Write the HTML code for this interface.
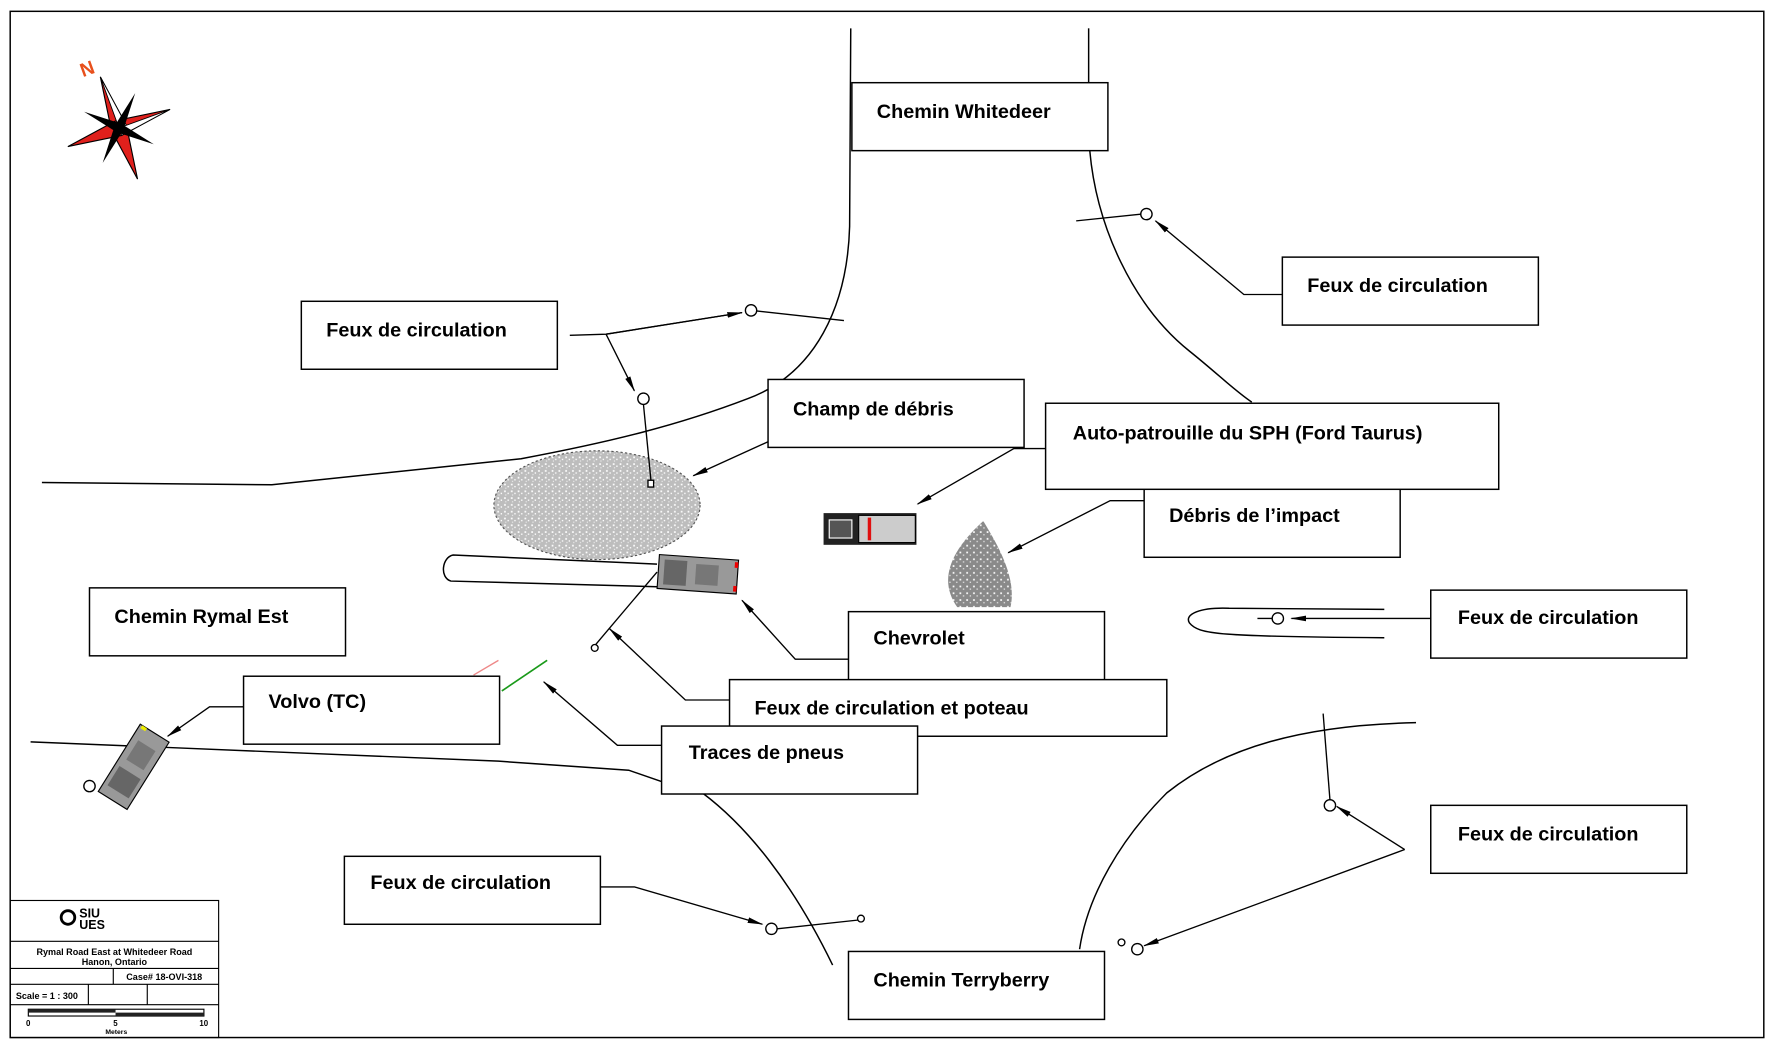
<!DOCTYPE html>
<html><head><meta charset="utf-8"><style>
html,body{margin:0;padding:0;background:#fff;}
svg{display:block;}
text{font-family:"Liberation Sans",sans-serif;font-weight:bold;}
</style></head><body>
<svg width="1774" height="1050" viewBox="0 0 1566 927" preserveAspectRatio="none" xmlns="http://www.w3.org/2000/svg">
<defs>
<marker id="a" markerWidth="14" markerHeight="8" refX="13" refY="4" orient="auto" markerUnits="userSpaceOnUse"><path d="M0,1.5 L14,4 L0,6.5 Z" fill="#000"/></marker>
<pattern id="sp" width="6" height="6" patternUnits="userSpaceOnUse"><rect width="6" height="6" fill="#bdbdbd"/><rect x="1" y="1" width="1.5" height="1.5" fill="#fff"/><rect x="4" y="3" width="1.2" height="1.2" fill="#fff"/><rect x="2" y="4.5" width="1" height="1" fill="#eee"/></pattern>
<pattern id="sp2" width="6" height="6" patternUnits="userSpaceOnUse"><rect width="6" height="6" fill="#8a8a8a"/><rect x="1" y="1" width="1.5" height="1.5" fill="#fff"/><rect x="4" y="3.5" width="1.2" height="1.2" fill="#ddd"/></pattern>
</defs>
<rect x="0" y="0" width="1566" height="927" fill="#fff"/>
<rect x="9" y="10" width="1548" height="906" fill="none" stroke="#000" stroke-width="1.3"/>

<!-- compass -->
<g transform="translate(105,113) rotate(-20)">
<polygon points="0,-48 7,0 0,48 -7,0" fill="#e0201c" stroke="#000" stroke-width="1"/>
<polygon points="-48,0 0,-7 48,0 0,7" fill="#e0201c" stroke="#000" stroke-width="1"/>
<polygon points="0,-48 7,0 0,0" fill="#fff" stroke="#000" stroke-width="0.8"/>
<polygon points="48,0 0,7 0,0" fill="#fff" stroke="#000" stroke-width="0.8"/>
<polygon points="-24,-24 3,-3 24,24 -3,3" fill="#000"/>
<polygon points="24,-24 3,3 -24,24 -3,-3" fill="#000"/>
</g>
<text x="70" y="66" fill="#e8501c" font-size="17" transform="rotate(-20 78 58)">N</text>

<!-- roads -->
<g fill="none" stroke="#000" stroke-width="1.3">
<path d="M751,25 L750,200 C748,270 720,330 660,352 C600,375 540,390 460,405 L240,428 L37,426"/>
<path d="M961,25 L961,73"/>
<path d="M962,133 C968,200 1000,270 1050,310 C1075,330 1090,345 1105,355"/>
<path d="M27,655 L150,660 L440,672 L555,680 L584,690"/>
<path d="M620,700 C660,730 700,780 735,852"/>
<path d="M1250,638 C1150,640 1080,660 1030,700 C990,740 960,790 953,838"/>
<path d="M1222,538 L1085,537 C1060,536 1045,542 1050,550 C1058,560 1075,562 1222,563"/>
<path d="M580,498 L400,490 C390,492 388,510 398,513 L580,518"/>
</g>

<!-- debris blob -->
<ellipse cx="527" cy="446" rx="91" ry="48" fill="url(#sp)" stroke="#555" stroke-dasharray="2,2"/>
<path d="M868,460 C880,480 898,510 892,536 L845,536 C830,515 835,490 868,460 Z" fill="url(#sp2)"/>

<!-- signal posts -->
<g fill="#fff" stroke="#000" stroke-width="1.2">
<line x1="535" y1="295" x2="655" y2="276"/>
<line x1="535" y1="295" x2="560" y2="345" marker-end="url(#a)"/>
<line x1="663" y1="274" x2="745" y2="283"/>
<circle cx="663" cy="274" r="5"/>
<line x1="568" y1="357" x2="575" y2="428"/>
<circle cx="568" cy="352" r="5"/>
<rect x="572" y="424" width="5" height="6"/>
<line x1="950" y1="195" x2="1008" y2="189"/>
<circle cx="1012" cy="189" r="5"/>
<line x1="1133" y1="546" x2="1110" y2="546"/>
<circle cx="1128" cy="546" r="5"/>
<line x1="1174" y1="706" x2="1168" y2="630"/>
<circle cx="1174" cy="711" r="5"/>
<circle cx="1004" cy="838" r="5"/>
<circle cx="990" cy="832" r="3"/>
<line x1="686" y1="820" x2="760" y2="812"/>
<circle cx="681" cy="820" r="5"/>
<circle cx="760" cy="811" r="3"/>
<line x1="580" y1="505" x2="525" y2="570"/>
<circle cx="525" cy="572" r="3"/>
<circle cx="79" cy="694" r="5"/>
</g>
<line x1="418" y1="596" x2="440" y2="583" stroke="#e88" stroke-width="1.2"/>
<line x1="443" y1="610" x2="483" y2="583" stroke="#1a9a1a" stroke-width="1.5"/>

<!-- cars -->
<g transform="translate(768,467)">
<rect x="-41" y="-14" width="82" height="28" fill="#222"/>
<rect x="-10" y="-12" width="50" height="24" fill="#ccc" stroke="#000"/>
<rect x="-2" y="-10" width="3" height="20" fill="#e01010"/>
<rect x="-36" y="-8" width="20" height="16" fill="#555" stroke="#fff"/>
</g>
<g transform="translate(616,507) rotate(4)">
<rect x="-35" y="-15" width="70" height="30" fill="#999" stroke="#000"/>
<rect x="-30" y="-11" width="20" height="22" fill="#666"/>
<rect x="-2" y="-9" width="20" height="18" fill="#777"/>
<rect x="32" y="-13" width="3" height="5" fill="#e00"/>
<rect x="32" y="8" width="3" height="5" fill="#e00"/>
</g>
<g transform="translate(118,677) rotate(-58)">
<rect x="-35" y="-15" width="70" height="30" fill="#999" stroke="#000"/>
<rect x="-26" y="-11" width="20" height="22" fill="#666"/>
<rect x="2" y="-9" width="20" height="18" fill="#777"/>
<rect x="32" y="-13" width="3" height="5" fill="#ee0"/>
</g>

<!-- leaders -->
<g fill="none" stroke="#000" stroke-width="1.2" marker-end="url(#a)">
<polyline points="1132,260 1098,260 1020,195"/>
<polyline points="503,296 535,295 655,276"/>
<polyline points="678,390 612,420"/>
<polyline points="923,396 895,396 810,445"/>
<polyline points="1010,442 980,442 890,488"/>
<polyline points="749,582 702,582 655,530"/>
<polyline points="644,618 605,618 538,555"/>
<polyline points="584,658 545,658 480,602"/>
<polyline points="215,624 185,624 148,650"/>
<polyline points="1263,546 1140,546"/>
<polyline points="1240,750 1180,712"/>
<polyline points="1240,750 1010,835"/>
<polyline points="530,783 560,783 673,816"/>
</g>

<!-- boxes -->
<g fill="#fff" stroke="#000" stroke-width="1.3">
<rect x="752" y="73" width="226" height="60"/>
<rect x="1132" y="227" width="226" height="60"/>
<rect x="266" y="266" width="226" height="60"/>
<rect x="678" y="335" width="226" height="60"/>
<rect x="1010" y="420" width="226" height="72"/>
<rect x="923" y="356" width="400" height="76"/>
<rect x="79" y="519" width="226" height="60"/>
<rect x="1263" y="521" width="226" height="60"/>
<rect x="749" y="540" width="226" height="62"/>
<rect x="644" y="600" width="386" height="50"/>
<rect x="215" y="597" width="226" height="60"/>
<rect x="584" y="641" width="226" height="60"/>
<rect x="1263" y="711" width="226" height="60"/>
<rect x="304" y="756" width="226" height="60"/>
<rect x="749" y="840" width="226" height="60"/>
</g>
<g font-size="17.5" fill="#000">
<text x="774" y="104">Chemin Whitedeer</text>
<text x="1154" y="258">Feux de circulation</text>
<text x="288" y="297">Feux de circulation</text>
<text x="700" y="367">Champ de débris</text>
<text x="947" y="388">Auto-patrouille du SPH (Ford Taurus)</text>
<text x="1032" y="461">Débris de l’impact</text>
<text x="101" y="550">Chemin Rymal Est</text>
<text x="1287" y="551">Feux de circulation</text>
<text x="771" y="569">Chevrolet</text>
<text x="666" y="631">Feux de circulation et poteau</text>
<text x="237" y="625">Volvo (TC)</text>
<text x="608" y="670">Traces de pneus</text>
<text x="1287" y="742">Feux de circulation</text>
<text x="327" y="785">Feux de circulation</text>
<text x="771" y="871">Chemin Terryberry</text>
</g>

<!-- title block -->
<g fill="none" stroke="#000" stroke-width="1">
<rect x="9" y="795" width="184" height="121"/>
<line x1="9" y1="831" x2="193" y2="831"/>
<line x1="9" y1="855" x2="193" y2="855"/>
<line x1="9" y1="869" x2="193" y2="869"/>
<line x1="9" y1="887" x2="193" y2="887"/>
<line x1="100" y1="855" x2="100" y2="869"/>
<line x1="78" y1="869" x2="78" y2="887"/>
<line x1="130" y1="869" x2="130" y2="887"/>
<circle cx="60" cy="810" r="6" stroke-width="2.5"/>
</g>
<g font-family="Liberation Serif" font-weight="normal">
<text x="70" y="810" font-size="11" font-weight="normal">SIU</text>
<text x="70" y="820" font-size="11" font-weight="normal">UES</text>
</g>
<text x="101" y="843" font-size="8" text-anchor="middle" font-weight="normal">Rymal Road East at Whitedeer Road</text>
<text x="101" y="852" font-size="8" text-anchor="middle" font-weight="normal">Hanon, Ontario</text>
<text x="145" y="865" font-size="8" text-anchor="middle" font-weight="normal">Case# 18-OVI-318</text>
<text x="14" y="882" font-size="8" font-weight="normal">Scale = 1 : 300</text>
<rect x="25" y="891" width="155" height="6" fill="#fff" stroke="#000"/>
<rect x="25" y="891" width="77" height="3" fill="#222"/>
<rect x="102" y="894" width="78" height="3" fill="#222"/>
<text x="23" y="906" font-size="7" font-weight="normal">0</text>
<text x="100" y="906" font-size="7" font-weight="normal">5</text>
<text x="176" y="906" font-size="7" font-weight="normal">10</text>
<text x="93" y="913" font-size="6">Meters</text>
</svg>
</body></html>
